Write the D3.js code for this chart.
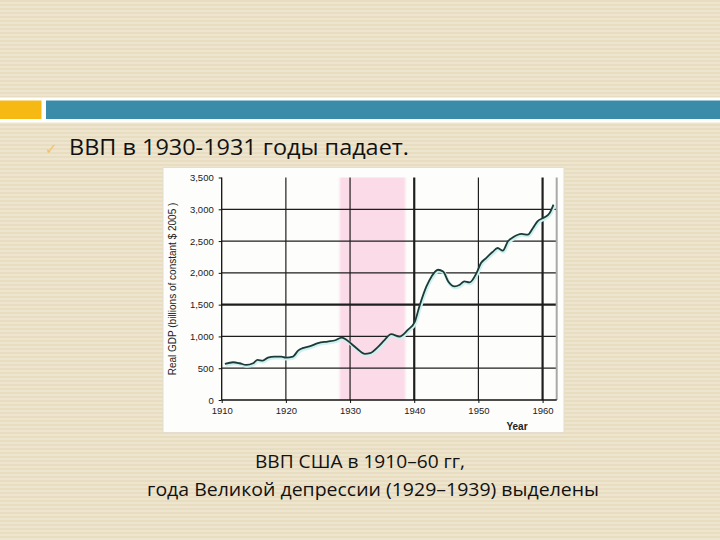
<!DOCTYPE html>
<html>
<head>
<meta charset="utf-8">
<script src="https://cdn.jsdelivr.net/npm/d3@7"></script>
<style>
  body { margin: 0; }
  svg { display: block; }
</style>
</head>
<body>
<svg id="slide" width="720" height="540"></svg>
<script>
// values (fractional year, billions of 2005 $)
const years = [1910.5, 1911.8, 1912.8, 1913.8, 1914.9, 1915.6, 1916.4, 1917.2, 1918.2, 1919.3,
  1920.0, 1921.1, 1921.9, 1922.6, 1923.9, 1925.0, 1926.5, 1927.7, 1928.7, 1930.1,
  1931.2, 1932.3, 1933.1, 1934.4, 1935.4, 1936.4, 1937.7, 1939.0, 1940.1, 1940.8,
  1941.9, 1942.7, 1943.7, 1944.5, 1945.3, 1946.3, 1947.1, 1947.8, 1948.6, 1949.7,
  1950.4, 1951.2, 1952.2, 1953.0, 1953.8, 1954.6, 1955.4, 1956.7, 1957.7, 1958.5,
  1959.2, 1960.3, 1961.1, 1961.7]
const gdp = [567, 594, 578, 552, 578, 630, 620, 667, 683, 683,
  667, 683, 777, 815, 851, 894, 920, 940, 982, 894,
  799, 725, 736, 841, 946, 1036, 998, 1104, 1234, 1471,
  1786, 1944, 2049, 2023, 1865, 1786, 1813, 1865, 1849, 1997,
  2155, 2233, 2328, 2391, 2349, 2496, 2559, 2612, 2601, 2707,
  2811, 2874, 2943, 3074]
const depression = [1928.4, 1938.6]
const yTicks = [0, 500, 1000, 1500, 2000, 2500, 3000, 3500]
const xTicks = [1910, 1920, 1930, 1940, 1950, 1960]
const yTitle = "Real GDP (billions of constant $ 2005 )"
const xTitle = "Year"
const heading = "ВВП в 1930-1931 годы падает."
const caption = ["ВВП США в 1910–60 гг,", "года Великой депрессии (1929–1939) выделены"]

const svg = d3.select("#slide")

// striped beige slide background
const defs = svg.append("defs")
const pat = defs.append("pattern")
    .attr("id", "stripes")
    .attr("width", 8).attr("height", 4)
    .attr("patternUnits", "userSpaceOnUse")
pat.append("rect").attr("width", 8).attr("height", 4).attr("fill", "#e8dcc1")
pat.append("rect").attr("y", 2).attr("width", 8).attr("height", 2).attr("fill", "#eee5cf")

svg.append("rect").attr("width", 720).attr("height", 540).attr("fill", "url(#stripes)")

// header bar
svg.append("rect").attr("x", 0).attr("y", 97.5).attr("width", 720).attr("height", 25).attr("fill", "#ffffff")
svg.append("rect").attr("x", 0).attr("y", 100.5).attr("width", 41.5).attr("height", 18.5).attr("fill", "#f6b813")
svg.append("rect").attr("x", 46).attr("y", 100.5).attr("width", 674).attr("height", 18.5).attr("fill", "#3a8ca8")

// bullet + heading
svg.append("text")
    .attr("x", 45).attr("y", 154)
    .attr("font-family", "DejaVu Sans")
    .attr("font-size", 15)
    .attr("fill", "#efc46a")
    .text("✓")
svg.append("text")
    .attr("x", 69).attr("y", 155)
    .attr("font-family", "Open Sans")
    .attr("font-size", 21)
    .attr("textLength", 340)
    .attr("lengthAdjust", "spacingAndGlyphs")
    .attr("fill", "#111")
    .text(heading)

// chart picture
svg.append("rect")
    .attr("x", 163).attr("y", 167.5).attr("width", 401).attr("height", 265)
    .attr("fill", "#fdfdfc")
    .attr("stroke", "#e4ddd0")

const x = d3.scaleLinear().domain([1910, 1962.2]).range([221.7, 556.7])
const y = d3.scaleLinear().domain([0, 3500]).range([400, 177.5])

const g = svg.append("g")

const blur = defs.append("filter").attr("id", "soft").attr("x", "-10%").attr("width", "120%")
blur.append("feGaussianBlur").attr("stdDeviation", "1.2 0")

g.append("rect")
    .attr("x", x(depression[0])).attr("y", y(3500))
    .attr("width", x(depression[1]) - x(depression[0]))
    .attr("height", y(0) - y(3500))
    .attr("fill", "#fbdbe8")
    .attr("filter", "url(#soft)")

// gridlines
g.selectAll(".hgrid")
    .data(yTicks.filter(d => d > 0 && d < 3500))
    .join("line")
    .attr("x1", x.range()[0]).attr("x2", x.range()[1])
    .attr("y1", d => y(d)).attr("y2", d => y(d))
    .attr("stroke", "#1e1e1e")
    .attr("stroke-width", d => d === 1500 ? 2.2 : 1.2)

g.selectAll(".vgrid")
    .data(xTicks.filter(d => d > 1910))
    .join("line")
    .attr("x1", d => x(d)).attr("x2", d => x(d))
    .attr("y1", y(3500)).attr("y2", y(0))
    .attr("stroke", "#1e1e1e")
    .attr("stroke-width", d => (d === 1940 || d === 1960) ? 2.2 : 1.2)

// right border
g.append("line")
    .attr("x1", x.range()[1]).attr("x2", x.range()[1])
    .attr("y1", y(3500)).attr("y2", y(0))
    .attr("stroke", "#a8a8a8").attr("stroke-width", 2)

// axes
const yAxis = d3.axisLeft(y).tickValues(yTicks).tickFormat(d3.format(",")).tickSize(3).tickPadding(5)
const xAxis = d3.axisBottom(x).tickValues(xTicks).tickFormat(d3.format("d")).tickSize(3).tickPadding(4)

const ya = g.append("g").attr("transform", `translate(${x.range()[0]},0)`).call(yAxis)
const xa = g.append("g").attr("transform", `translate(0,${y(0)})`).call(xAxis)
for (const a of [ya, xa]) {
    a.select(".domain").attr("stroke", "#111").attr("stroke-width", 1.3)
    a.selectAll(".tick line").attr("stroke", "#111")
    a.selectAll("text")
        .attr("font-family", "Liberation Sans Narrow, Liberation Sans")
        .attr("font-size", 9.5)
        .attr("fill", "#222")
}
xa.select(".domain").attr("d", `M${x.range()[0]},0H${x.range()[1]}`)
ya.select(".domain").attr("d", `M0,${y(3500)}V${y(0)}`)

// line with its light halo
const line = d3.line()
    .x((d, i) => x(years[i]))
    .y(d => y(d))
    .curve(d3.curveMonotoneX)

g.append("path")
    .attr("d", line(gdp))
    .attr("transform", "translate(0.8,1.3)")
    .attr("fill", "none")
    .attr("stroke", "#cdf1f1")
    .attr("stroke-width", 3.2)
g.append("path")
    .attr("d", line(gdp))
    .attr("fill", "none")
    .attr("stroke", "#1d3b36")
    .attr("stroke-width", 1.8)
    .attr("stroke-linejoin", "round")

// axis titles
g.append("text")
    .attr("transform", "translate(176,289) rotate(-90)")
    .attr("text-anchor", "middle")
    .attr("font-family", "Liberation Sans Narrow, Liberation Sans")
    .attr("font-size", 10)
    .attr("fill", "#222")
    .text(yTitle)
g.append("text")
    .attr("x", 517).attr("y", 430)
    .attr("text-anchor", "middle")
    .attr("font-family", "Liberation Sans Narrow, Liberation Sans")
    .attr("font-weight", "bold")
    .attr("font-size", 10)
    .attr("fill", "#222")
    .text(xTitle)

// caption under the chart
const capX = [255, 147]
const capW = [210, 452]
svg.append("g").selectAll("text")
    .data(caption)
    .join("text")
    .attr("x", (d, i) => capX[i])
    .attr("y", (d, i) => 468 + i * 28)
    .attr("font-family", "Open Sans")
    .attr("font-size", 18)
    .attr("textLength", (d, i) => capW[i])
    .attr("lengthAdjust", "spacingAndGlyphs")
    .attr("fill", "#111")
    .text(d => d)
</script>
</body>
</html>
